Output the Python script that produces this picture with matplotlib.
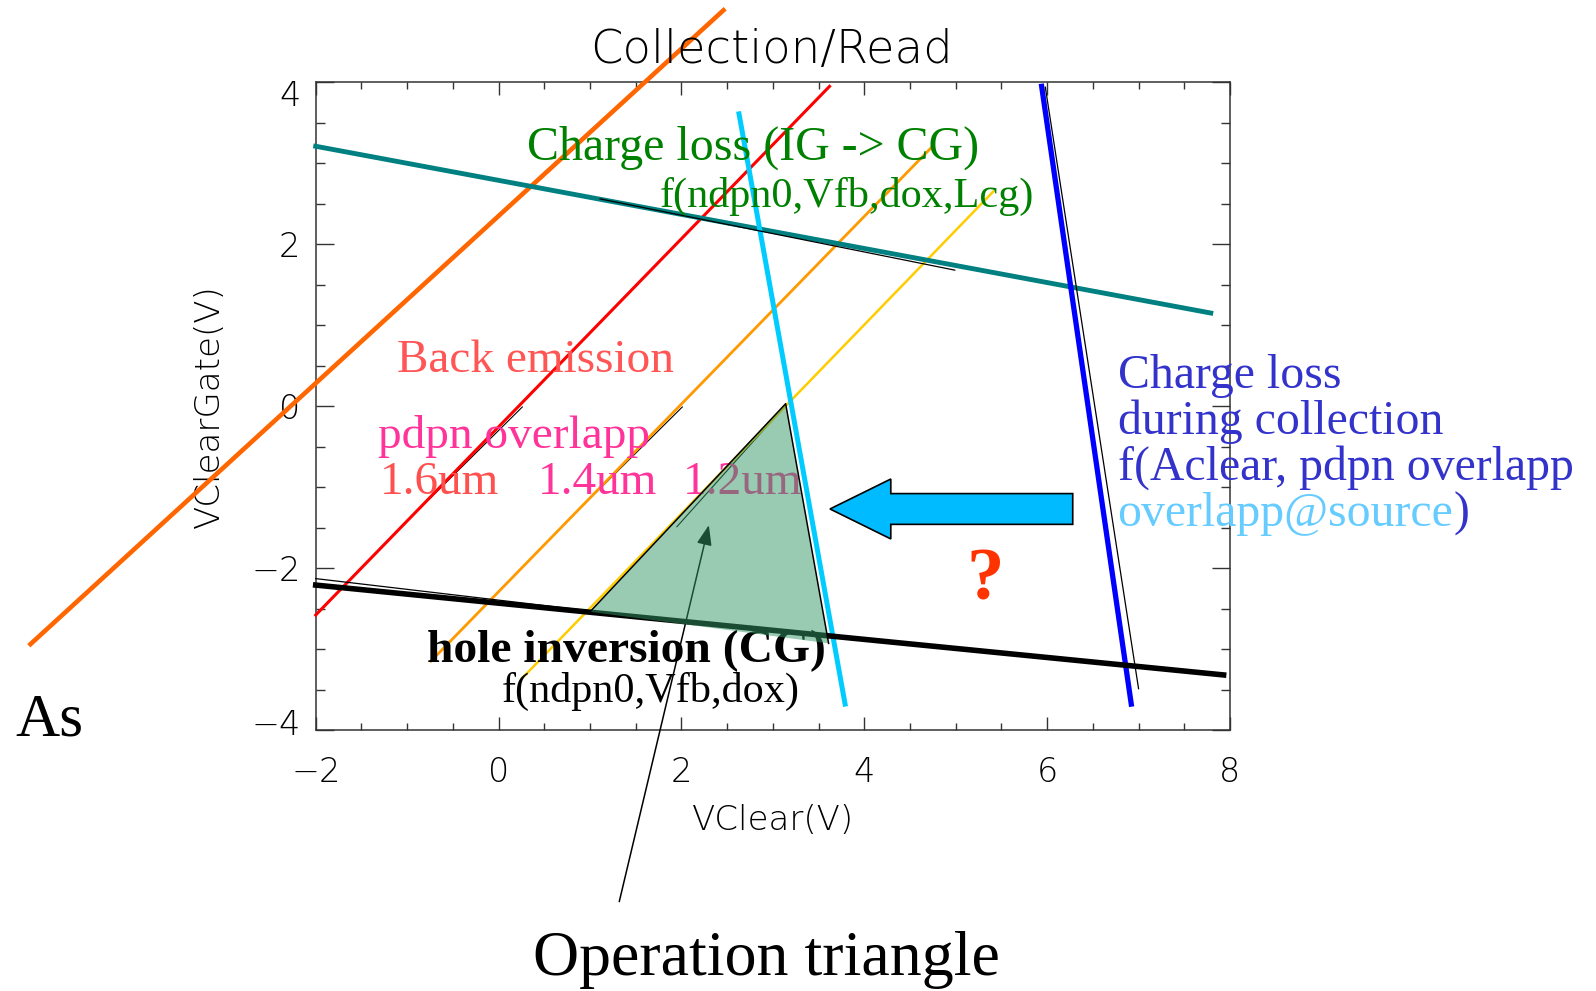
import numpy as np
import matplotlib
matplotlib.use("Agg")
import matplotlib.pyplot as plt
from matplotlib.patches import Polygon
import matplotlib.transforms as mtrans
from matplotlib import font_manager as fm

W, H, DPI = 1596, 991, 100

# boundary lines of the operating window, end points as (VClear, VClearGate)
AS_X, AS_Y = [-5.12, 2.46], [-2.94, 4.89]            # thick orange
P16_X, P16_Y = [-2.00, 3.62], [-2.58, 3.95]          # pdpn 1.6um, red
P14_X, P14_Y = [-0.74, 4.73], [-3.15, 3.19]          # pdpn 1.4um, orange
P12_X, P12_Y = [0.25, 5.41], [-3.37, 2.65]           # pdpn 1.2um, yellow
IGCG_X, IGCG_Y = [-2.00, 7.79], [3.21, 1.15]         # charge loss IG->CG, teal
READ_X, READ_Y = [2.63, 3.79], [3.61, -3.68]         # cyan
COLL_X, COLL_Y = [5.94, 6.92], [3.95, -3.68]         # charge loss during collection, blue
HOLE_X, HOLE_Y = [-2.00, 7.93], [-2.21, -3.32]       # hole inversion, black

# thin black simulation lines under / beside the thick ones
SIM_IGCG_X, SIM_IGCG_Y = [1.11, 4.99], [2.56, 1.68]
SIM_COLL_X, SIM_COLL_Y = [5.98, 7.00], [3.94, -3.49]
SIM_HOLE_X, SIM_HOLE_Y = [-2.00, 1.01], [-2.13, -2.53]
SIM_P16_X, SIM_P16_Y = [-1.072, 0.26], [-1.50, -0.01]
SIM_P14_X, SIM_P14_Y = [0.724, 2.01], [-1.45, -0.01]
SIM_P12_X, SIM_P12_Y = [1.95, 3.06], [-1.49, -0.09]

# operation triangle
TRI_X, TRI_Y = [1.00, 3.14, 3.61], [-2.54, 0.03, -2.93]

# big left arrow
ARR_X = [3.625, 4.29, 4.29, 6.28, 6.28, 4.29, 4.29]
ARR_Y = [-1.27, -0.90, -1.08, -1.08, -1.46, -1.46, -1.64]

# pointer from "Operation triangle"
PTR_TAIL, PTR_HEAD = (1.32, -6.12), (2.30, -1.47)

XMAJ, YMAJ = [-2, 0, 2, 4, 6, 8], [-4, -2, 0, 2, 4]


def has_face(name, weight):
    for f in fm.fontManager.ttflist:
        w = f.weight if isinstance(f.weight, int) else fm.weight_dict.get(f.weight, 400)
        if f.name == name and w == weight:
            return True
    return False

# thin monoline look of the IDL axis font
THIN, THIN_W, K = 'DejaVu Sans', 'normal', 1.0
for name, wt, k in [('DejaVu Sans', 200, 1.0), ('Lato', 300, 1.08), ('Roboto', 300, 1.02),
                    ('Open Sans', 300, 0.98)]:
    if has_face(name, wt):
        THIN, THIN_W, K = name, wt, k
        break

plt.rcParams['font.family'] = [THIN, 'DejaVu Sans']
plt.rcParams['font.weight'] = THIN_W
plt.rcParams['axes.labelweight'] = THIN_W
SERIF = ['Liberation Serif', 'DejaVu Serif']

fig = plt.figure(figsize=(W / DPI, H / DPI), dpi=DPI)
fig.patch.set_facecolor('white')
ax = fig.add_axes([315.7 / W, 1 - 730 / H, 914.3 / W, 647.7 / H])
ax.set_xlim(-2, 8); ax.set_ylim(-4, 4)

def fx(px): return px / W
def fy(py): return 1 - py / H

# simulation lines that sit under the coloured ones
for xs, ys in [(SIM_P16_X, SIM_P16_Y), (SIM_P14_X, SIM_P14_Y), (SIM_P12_X, SIM_P12_Y)]:
    ax.plot(xs, ys, color='black', lw=0.8, zorder=2, clip_on=False)

ax.plot(AS_X, AS_Y, color='#ff6600', lw=3.3, zorder=3, clip_on=False)
ax.plot(P16_X, P16_Y, color='#ff0000', lw=2.2, zorder=3, clip_on=False)
ax.plot(P14_X, P14_Y, color='#ff9900', lw=2.0, zorder=3, clip_on=False)
ax.plot(P12_X, P12_Y, color='#ffcc00', lw=1.8, zorder=3, clip_on=False)
ax.plot(IGCG_X, IGCG_Y, color='#008080', lw=3.5, zorder=3, clip_on=False)
ax.plot(READ_X, READ_Y, color='#00ccff', lw=3.6, zorder=3, clip_on=False)
ax.plot(COLL_X, COLL_Y, color='#0000ff', lw=3.8, zorder=3, clip_on=False)
ax.plot(HOLE_X, HOLE_Y, color='black', lw=4.0, zorder=3, clip_on=False)

for xs, ys in [(SIM_IGCG_X, SIM_IGCG_Y), (SIM_COLL_X, SIM_COLL_Y), (SIM_HOLE_X, SIM_HOLE_Y)]:
    ax.plot(xs, ys, color='black', lw=0.9, zorder=4, clip_on=False)

def txt(px, py, s, **kw):
    kw.setdefault('family', SERIF)
    kw.setdefault('fontweight', 'normal')
    return ax.text(fx(px), fy(py), s, transform=fig.transFigure, ha=kw.pop('ha', 'left'),
                   va=kw.pop('va', 'baseline'), clip_on=False, zorder=5, **kw)

txt(527, 160, "Charge loss (IG -> CG)", color='#008000', fontsize=34.5)
txt(660, 206.7, "f(ndpn0,Vfb,dox,Lcg)", color='#008000', fontsize=30.4)
txt(396.7, 371.7, "Back emission", color='#ff5555', fontsize=34)
txt(378.3, 448.3, "pdpn overlapp", color='#ff3399', fontsize=34)
txt(380, 494, "1.6um", color='#ff5050', fontsize=34)
txt(538.3, 494, "1.4um", color='#ff3399', fontsize=34)
txt(683, 494, "1.2um", color='#ff3399', fontsize=34)
txt(426.8, 661.7, "hole inversion (CG)", color='black', fontsize=34.2, fontweight='bold')
txt(501.8, 701.7, "f(ndpn0,Vfb,dox)", color='black', fontsize=30.4)
txt(1117.6, 388, "Charge loss", color='#3333cc', fontsize=34.4)
txt(1117.6, 434, "during collection", color='#3333cc', fontsize=34.4)
txt(1117.6, 480, "f(Aclear, pdpn overlapp", color='#3333cc', fontsize=34.4)
src = txt(1117.6, 526, "overlapp@source", color='#66ccff', fontsize=34.4)
ax.annotate(")", xy=(1, 0), xycoords=src, ha='left', va='bottom', color='#3333cc',
            fontsize=34.4, family=SERIF, fontweight='normal', annotation_clip=False, zorder=5)
txt(985, 600, "?", color='#ff3300', fontsize=54, fontweight='bold', ha='center')
txt(15.3, 735, "As", color='black', fontsize=44)
txt(533, 975, "Operation triangle", color='black', fontsize=46)

ax.annotate("", xy=PTR_HEAD, xytext=PTR_TAIL,
            arrowprops=dict(arrowstyle='-|>,head_length=0.45,head_width=0.17', color='black',
                            lw=1.1, mutation_scale=27, shrinkA=0, shrinkB=0),
            annotation_clip=False, zorder=5)

ax.add_patch(Polygon(np.column_stack([ARR_X, ARR_Y]), closed=True, facecolor='#00bbff',
                     edgecolor='black', lw=1.2, zorder=6, clip_on=False))

# translucent triangle drawn over everything inside it
ax.add_patch(Polygon(np.column_stack([TRI_X, TRI_Y]), closed=True,
                     facecolor=(0.2, 0.6, 0.4, 0.5), edgecolor='none', zorder=7))
ax.plot(TRI_X, TRI_Y, color='black', lw=1.1, zorder=7)

# axes styling (IDL look)
ax.set_xticks(XMAJ); ax.set_xticks(np.arange(-2, 8.01, 0.5), minor=True)
ax.set_yticks(YMAJ); ax.set_yticks(np.arange(-4, 4.01, 0.5), minor=True)
ax.tick_params(which='both', direction='in', top=True, right=True, color='#333333', width=1)
ax.tick_params(axis='x', which='major', length=9.3, pad=19, labelsize=24 * K, labelcolor='black')
ax.tick_params(axis='x', which='minor', length=4.7)
ax.tick_params(axis='y', which='major', length=13, pad=11, labelsize=24 * K, labelcolor='black')
ax.tick_params(axis='y', which='minor', length=6.5)
for s in ax.spines.values():
    s.set_color('#333333'); s.set_linewidth(1.1)

ylabs = ax.get_yticklabels()
ylabs[-1].set_transform(ylabs[-1].get_transform() + mtrans.ScaledTranslation(0, -0.11, fig.dpi_scale_trans))
ylabs[0].set_transform(ylabs[0].get_transform() + mtrans.ScaledTranslation(0, 0.08, fig.dpi_scale_trans))

ax.set_xlabel("VClear(V)", fontsize=24.5 * K, color='black')
ax.xaxis.set_label_coords(0.5, -0.114)
ax.set_ylabel("VClearGate(V)", fontsize=24.5 * K, color='black')
ax.yaxis.set_label_coords(-0.098, 0.5)
fig.text(771.5 / W, fy(63), "Collection/Read", ha='center', va='baseline',
         fontsize=33.5 * K, color='black')

fig.savefig("out.png", dpi=DPI, facecolor='white')
